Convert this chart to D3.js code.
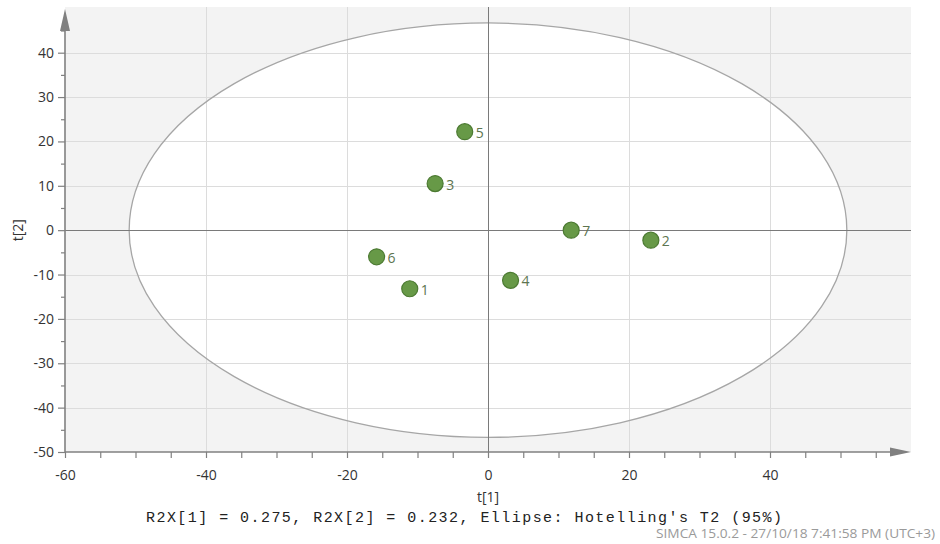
<!DOCTYPE html>
<html>
<head>
<meta charset="utf-8">
<script src="https://cdn.jsdelivr.net/npm/d3@7/dist/d3.min.js"></script>
<style>
  html, body { margin: 0; padding: 0; background: #fff; }
  svg { display: block; }
</style>
</head>
<body>
<svg id="chart" width="940" height="544"></svg>
<script>
// Score plot t[1] vs t[2]
const obsIds = ["1", "2", "3", "4", "5", "6", "7"];
const t1 = [-11.1, 23.1, -7.5, 3.2, -3.3, -15.8, 11.8];
const t2 = [-13.2, -2.25, 10.5, -11.3, 22.2, -6.0, 0.0];

const xTicks = [-60, -40, -20, 0, 20, 40];
const yTicks = [-50, -40, -30, -20, -10, 0, 10, 20, 30, 40];
const ellipseAxes = [50.9, 46.7]; // Hotelling's T2 95% semi-axes (t1, t2)

const footnote = "R2X[1] = 0.275, R2X[2] = 0.232, Ellipse: Hotelling's T2 (95%)";
const stamp = "SIMCA 15.0.2 - 27/10/18 7:41:58 PM (UTC+3)";

const svg = d3.select("#chart");
const plotL = 65, plotR = 911, plotT = 7, plotB = 452;

const x = d3.scaleLinear().domain([-60, 60]).range([plotL, plotR]);
const y = d3.scaleLinear().domain([-50, 50.3]).range([plotB, plotT]);

const font = "'Open Sans', 'Noto Sans', sans-serif";
const axisCol = "#808080";

// plot background
svg.append("rect")
  .attr("x", plotL).attr("y", plotT)
  .attr("width", plotR - plotL).attr("height", plotB - plotT)
  .attr("fill", "#f3f3f3");

// ellipse interior
svg.append("ellipse")
  .attr("cx", x(0)).attr("cy", y(0))
  .attr("rx", x(ellipseAxes[0]) - x(0))
  .attr("ry", y(0) - y(ellipseAxes[1]))
  .attr("fill", "#ffffff");

// grid lines
const grid = svg.append("g").attr("stroke", "#dcdcdc").attr("stroke-width", 1);
xTicks.filter(d => d !== 0 && d !== -60).forEach(d => {
  grid.append("line")
    .attr("x1", Math.round(x(d)) + 0.5).attr("x2", Math.round(x(d)) + 0.5)
    .attr("y1", plotT).attr("y2", plotB);
});
yTicks.filter(d => d !== 0 && d !== -50).forEach(d => {
  grid.append("line")
    .attr("x1", plotL).attr("x2", plotR)
    .attr("y1", Math.round(y(d)) + 0.5).attr("y2", Math.round(y(d)) + 0.5);
});

// ellipse outline
svg.append("ellipse")
  .attr("cx", x(0)).attr("cy", y(0))
  .attr("rx", x(ellipseAxes[0]) - x(0))
  .attr("ry", y(0) - y(ellipseAxes[1]))
  .attr("fill", "none")
  .attr("stroke", "#a6a6a6")
  .attr("stroke-width", 1.3);

// zero lines
svg.append("line")
  .attr("x1", Math.round(x(0)) + 0.5).attr("x2", Math.round(x(0)) + 0.5)
  .attr("y1", plotT).attr("y2", plotB)
  .attr("stroke", "#7a7a7a").attr("stroke-width", 1);
svg.append("line")
  .attr("x1", plotL).attr("x2", plotR)
  .attr("y1", Math.round(y(0)) + 0.5).attr("y2", Math.round(y(0)) + 0.5)
  .attr("stroke", "#7a7a7a").attr("stroke-width", 1);

// x axis
const xAxis = d3.axisBottom(x)
  .tickValues(d3.range(-60, 56, 5))
  .tickSize(6)
  .tickFormat(d => xTicks.includes(d) ? d : "");
const gx = svg.append("g")
  .attr("transform", `translate(0,${plotB})`)
  .call(xAxis);
gx.select(".domain").remove();
gx.selectAll(".tick line").attr("stroke", axisCol).attr("stroke-width", 1.2);
gx.selectAll(".tick text")
  .attr("y", 18)
  .attr("fill", "#333")
  .style("font-family", font).style("font-size", "14px");
gx.append("line")
  .attr("x1", plotL).attr("x2", plotR - 18)
  .attr("y1", 0).attr("y2", 0)
  .attr("stroke", axisCol).attr("stroke-width", 1.6);
gx.append("path")
  .attr("d", `M${plotR - 21},-4.5 L${plotR},0 L${plotR - 21},4.5 Z`)
  .attr("fill", axisCol);

// y axis
const yAxis = d3.axisLeft(y)
  .tickValues(d3.range(-50, 46, 5))
  .tickSize(4)
  .tickFormat(d => yTicks.includes(d) ? d : "");
const gy = svg.append("g")
  .attr("transform", `translate(${plotL},0)`)
  .call(yAxis);
gy.select(".domain").remove();
gy.selectAll(".tick line")
  .attr("stroke", axisCol).attr("stroke-width", 1.2)
  .attr("x2", d => yTicks.includes(d) ? -7 : -4);
gy.selectAll(".tick text")
  .attr("x", -11)
  .attr("fill", "#333")
  .style("font-family", font).style("font-size", "14px");
gy.append("line")
  .attr("x1", 0).attr("x2", 0)
  .attr("y1", plotB).attr("y2", 28)
  .attr("stroke", axisCol).attr("stroke-width", 1.6);
gy.append("path")
  .attr("d", `M-5,31 L0,9 L5,31 Z`)
  .attr("fill", axisCol);

// axis titles
svg.append("text")
  .attr("x", x(0)).attr("y", 502)
  .attr("text-anchor", "middle")
  .attr("fill", "#333")
  .style("font-family", font).style("font-size", "14px")
  .text("t[1]");
svg.append("text")
  .attr("transform", `translate(23,${y(0)}) rotate(-90)`)
  .attr("text-anchor", "middle")
  .attr("fill", "#333")
  .style("font-family", font).style("font-size", "14px")
  .text("t[2]");

// observations
const obs = obsIds.map((id, i) => ({ id, t1: t1[i], t2: t2[i] }));
const pts = svg.append("g");
pts.selectAll("circle")
  .data(obs).join("circle")
  .attr("cx", d => x(d.t1)).attr("cy", d => y(d.t2))
  .attr("r", 8)
  .attr("fill", "#679947")
  .attr("stroke", "#4c7a32")
  .attr("stroke-width", 1.2);
pts.selectAll("text")
  .data(obs).join("text")
  .attr("x", d => x(d.t1) + 11).attr("y", d => y(d.t2) + 6)
  .attr("fill", "#5d7550")
  .style("font-family", font).style("font-size", "14px")
  .text(d => d.id);

// footnotes
svg.append("text")
  .attr("x", 146).attr("y", 522)
  .attr("textLength", 636).attr("lengthAdjust", "spacing")
  .attr("fill", "#222")
  .style("font-family", "'Liberation Mono', 'DejaVu Sans Mono', monospace")
  .style("font-size", "15px")
  .text(footnote);
svg.append("text")
  .attr("x", 656).attr("y", 538)
  .attr("textLength", 279).attr("lengthAdjust", "spacingAndGlyphs")
  .attr("fill", "#9a9a9a")
  .style("font-family", font).style("font-size", "12px")
  .text(stamp);
</script>
</body>
</html>
